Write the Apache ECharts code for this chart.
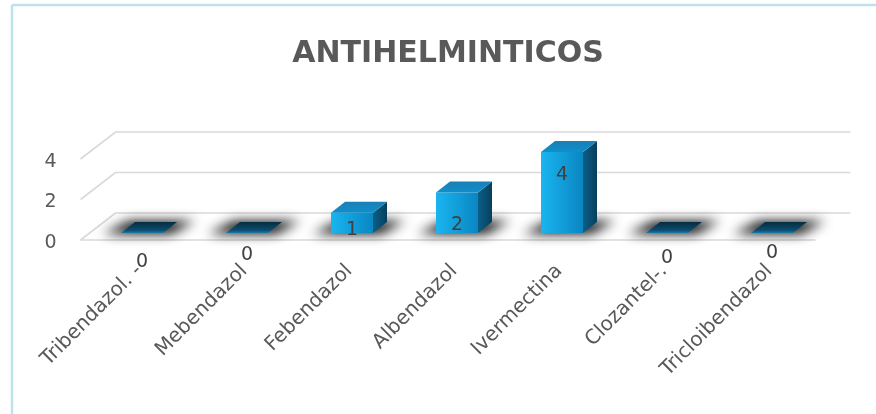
<!DOCTYPE html>
<html><head><meta charset="utf-8">
<script src="https://cdn.jsdelivr.net/npm/echarts@6/dist/echarts.min.js"></script>
<style>html,body{margin:0;padding:0;background:#fff}#c{width:876px;height:414px}</style>
</head><body><div id="c"></div>
<script>
// ---- data ----
const categories = ['Tribendazol. -', 'Mebendazol', 'Febendazol', 'Albendazol', 'Ivermectina', 'Clozantel-.', 'Tricloibendazol'];
const values = [0, 0, 1, 2, 4, 0, 0];
const yTicks = [0, 2, 4];
const titleText = 'ANTIHELMINTICOS';

// ---- style constants (pixels) ----
const DX = 14, DY = 11;          // bar depth
const FX = -9, FY = 7;           // floor front offset from bar plane
const BX = 26, BY = -20;         // back wall offset from bar plane
const OFF = 3000;                // offscreen shift for pure shadows
const labelDy = [29, 22, -3, -8, -58, 25, 20];
const FONT = '"DejaVu Sans", sans-serif';

const chart = echarts.init(document.getElementById('c'), null, {renderer: 'canvas'});

function renderGrid(params, api) {
  const cs = params.coordSys;
  const v = api.value(1);
  const y = api.coord([0, v])[1];
  const L = cs.x, R = cs.x + cs.width;
  const st = {stroke: '#d9d9d9', lineWidth: 1.6, fill: null};
  const children = [{type: 'polyline', shape: {points: [[L + FX, y + FY], [L + BX, y + BY], [R + BX, y + BY]]}, style: st}];
  if (v === 0) {
    children.push({type: 'line', shape: {x1: L + FX, y1: y + FY, x2: R + FX, y2: y + FY}, style: st});
  }
  return {type: 'group', silent: true, children};
}

function renderBar(params, api) {
  const i = api.value(0), v = api.value(1);
  const base = api.coord([i, 0]), top = api.coord([i, v]);
  const bw = api.size([1, 0])[0] * 0.4;
  const x0 = base[0] - bw / 2, x1 = base[0] + bw / 2, yb = base[1], yt = top[1];
  const children = [];
  children.push({
    type: 'polygon',
    shape: {points: [[x0 - 18 - OFF, yb + 1], [x1 + 8 - OFF, yb + 1], [x1 + DX + 18 - OFF, yb - DY - 1], [x0 + DX - 6 - OFF, yb - DY - 1]]},
    style: {fill: '#000', shadowBlur: 12, shadowColor: 'rgba(0,0,0,0.95)', shadowOffsetX: OFF, shadowOffsetY: 0}
  });
  if (v > 0) {
    children.push({
      type: 'rect', shape: {x: x0, y: yt, width: bw, height: yb - yt},
      style: {fill: new echarts.graphic.LinearGradient(0, 0, 1, 0, [{offset: 0, color: '#19b5f0'}, {offset: 1, color: '#0a86c2'}])}
    });
    children.push({
      type: 'polygon', shape: {points: [[x1, yb], [x1, yt], [x1 + DX, yt - DY], [x1 + DX, yb - DY]]},
      style: {fill: new echarts.graphic.LinearGradient(0, 0, 1, 0, [{offset: 0, color: '#0b5f88'}, {offset: 1, color: '#063f5d'}])}
    });
    children.push({
      type: 'polygon', shape: {points: [[x0, yt], [x1, yt], [x1 + DX, yt - DY], [x0 + DX, yt - DY]]},
      style: {fill: new echarts.graphic.LinearGradient(0, 1, 0, 0, [{offset: 0, color: '#0f8fcc'}, {offset: 1, color: '#1a7fb5'}])}
    });
  } else {
    children.push({
      type: 'polygon', shape: {points: [[x0, yb], [x1, yb], [x1 + DX, yb - DY], [x0 + DX, yb - DY]]},
      style: {fill: new echarts.graphic.LinearGradient(0, 1, 0, 0, [{offset: 0, color: '#1a7aa8'}, {offset: 0.25, color: '#0b4d6e'}, {offset: 1, color: '#062c40'}])}
    });
  }
  children.push({
    type: 'text', x: base[0], y: yb + labelDy[i], z2: 10,
    style: {text: String(v), fill: '#404040', font: '19px ' + FONT, align: 'center', verticalAlign: 'middle'}
  });
  return {type: 'group', silent: true, children};
}

const option = {
  backgroundColor: '#ffffff',
  animation: false,
  title: {
    text: titleText, left: 443, top: 34, textAlign: 'center',
    textStyle: {fontSize: 30, fontWeight: 'bold', color: '#595959', fontFamily: FONT}
  },
  graphic: [
    {type: 'line', shape: {x1: 12, y1: 5, x2: 876, y2: 5}, style: {stroke: '#bfe1eb', lineWidth: 2.5}},
    {type: 'line', shape: {x1: 12, y1: 5, x2: 12, y2: 414}, style: {stroke: '#bfe1eb', lineWidth: 2.5}}
  ],
  grid: {left: 89.5, right: 51.5, top: 152, bottom: 181, containLabel: false, outerBoundsMode: 'none'},
  xAxis: {
    type: 'category', data: categories,
    axisLine: {show: false}, axisTick: {show: false}, splitLine: {show: false},
    axisLabel: {interval: 0, rotate: 45, color: '#595959', fontSize: 20, fontFamily: FONT, margin: 32, padding: [0, 4, 0, 0]}
  },
  yAxis: {
    type: 'value', min: 0, max: 4, interval: 2,
    axisLine: {show: false}, axisTick: {show: false}, splitLine: {show: false},
    axisLabel: {color: '#595959', fontSize: 19, fontFamily: FONT, margin: 33, verticalAlign: 'top', lineHeight: 20}
  },
  series: [
    {type: 'custom', name: 'grid', data: yTicks.map(v => [0, v]), encode: {x: 0, y: 1}, renderItem: renderGrid, z: 1, silent: true},
    {type: 'custom', name: 'Antihelminticos', data: values.map((v, i) => [i, v]), encode: {x: 0, y: 1}, renderItem: renderBar, z: 3, silent: true}
  ]
};
chart.setOption(option);
</script></body></html>
